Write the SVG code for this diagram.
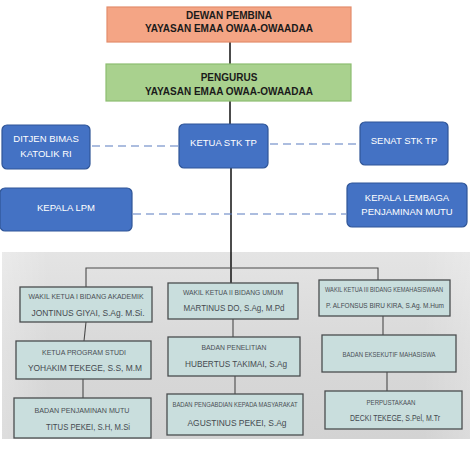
<svg xmlns="http://www.w3.org/2000/svg" width="474" height="458" viewBox="0 0 474 458">
<defs>
<linearGradient id="photo" x1="0" y1="0" x2="0" y2="1">
<stop offset="0" stop-color="#e4e4e4"/>
<stop offset="0.5" stop-color="#d9d9d9"/>
<stop offset="1" stop-color="#d3d3d3"/>
</linearGradient>
<linearGradient id="photoH" x1="0" y1="0" x2="1" y2="0">
<stop offset="0" stop-color="#ffffff" stop-opacity="0.25"/>
<stop offset="0.1" stop-color="#ffffff" stop-opacity="0"/>
<stop offset="0.9" stop-color="#ffffff" stop-opacity="0"/>
<stop offset="1" stop-color="#ffffff" stop-opacity="0.2"/>
</linearGradient>
</defs>
<style>
.top { font-family: "Liberation Sans", Arial, sans-serif; font-weight: bold; font-size: 10px; fill: #1a1a1a; text-anchor: middle; }
.blue { fill: #4472c4; stroke: #2f5597; stroke-width: 1.2; }
.bt { font-family: "Liberation Sans", Arial, sans-serif; font-size: 9.5px; fill: #ffffff; text-anchor: middle; }
.pbox { fill: #c9dedd; stroke: #4a4d4f; stroke-width: 1.3; }
.sm { font-family: "Liberation Sans", Arial, sans-serif; font-size: 6.5px; fill: #4a4f55; text-anchor: middle; }
.nm { font-family: "Liberation Sans", Arial, sans-serif; font-size: 9.5px; fill: #454a50; text-anchor: middle; }
.solid { stroke: #111; stroke-width: 1.5; fill: none; }
.dash { stroke: #5a7cc0; stroke-width: 1.2; stroke-dasharray: 8 5; fill: none; }
.pline { stroke: #4a4a4a; stroke-width: 1.1; fill: none; }
</style>
<rect x="0" y="0" width="474" height="458" fill="#ffffff"/>
<rect x="2" y="252" width="468" height="187" fill="url(#photo)"/>
<rect x="2" y="252" width="468" height="187" fill="url(#photoH)"/>

<g id="connectors">
<line class="solid" x1="230" y1="42" x2="230" y2="64"/>
<line class="solid" x1="230" y1="101" x2="230" y2="124"/>
<line class="solid" x1="231" y1="168" x2="231" y2="284"/>
<line class="dash" x1="92" y1="146" x2="178" y2="146"/>
<line class="dash" x1="270" y1="144" x2="358" y2="144"/>
<line class="dash" x1="133" y1="214" x2="346" y2="214"/>
<polyline class="pline" points="86,287 86,268 378,268 378,280"/>
<line class="pline" x1="86" y1="322" x2="84" y2="341"/>
<line class="pline" x1="83" y1="379" x2="83" y2="398"/>
<line class="pline" x1="233" y1="319" x2="233" y2="337"/>
<line class="pline" x1="235" y1="376" x2="235" y2="394"/>
<line class="pline" x1="383" y1="316" x2="383" y2="335"/>
<line class="pline" x1="387" y1="372" x2="387" y2="391"/>
</g>

<g id="dewan-pembina">
<rect x="107" y="7" width="244" height="35" fill="#f4a585" stroke="#e38d6c" stroke-width="1.2"/>
<text class="top" x="229" y="19">DEWAN PEMBINA</text>
<text class="top" x="229" y="32">YAYASAN EMAA OWAA-OWAADAA</text>
</g>

<g id="pengurus">
<rect x="106" y="64" width="245" height="37" fill="#a9d18e" stroke="#8dbd70" stroke-width="1.2"/>
<text class="top" x="229" y="81">PENGURUS</text>
<text class="top" x="229" y="95">YAYASAN EMAA OWAA-OWAADAA</text>
</g>

<g id="ditjen">
<rect class="blue" x="2" y="125" width="88" height="44" rx="5"/>
<text class="bt" x="46" y="141.5">DITJEN BIMAS</text>
<text class="bt" x="46" y="156.5">KATOLIK RI</text>
</g>

<g id="ketua">
<rect class="blue" x="179" y="124" width="89" height="44" rx="5"/>
<text class="bt" x="223.5" y="145.5">KETUA STK TP</text>
</g>

<g id="senat">
<rect class="blue" x="360" y="122" width="88" height="43" rx="5"/>
<text class="bt" x="404" y="143.5">SENAT STK TP</text>
</g>

<g id="kepala-lpm">
<rect class="blue" x="0" y="188" width="132" height="43" rx="5"/>
<text class="bt" x="66" y="210.5">KEPALA LPM</text>
</g>

<g id="kepala-lembaga">
<rect class="blue" x="347" y="183" width="120" height="44" rx="5"/>
<text class="bt" x="407" y="200.5">KEPALA LEMBAGA</text>
<text class="bt" x="407" y="214.5">PENJAMINAN MUTU</text>
</g>

<g id="wakil1">
<rect class="pbox" x="20" y="287" width="132" height="35"/>
<text class="sm" x="86" y="298.5" textLength="115" lengthAdjust="spacingAndGlyphs">WAKIL KETUA I BIDANG AKADEMIK</text>
<text class="nm" x="88" y="315.5" textLength="113" lengthAdjust="spacingAndGlyphs">JONTINUS GIYAI, S.Ag. M.Si.</text>
</g>

<g id="kaprodi">
<rect class="pbox" x="16" y="341" width="135" height="38"/>
<text class="sm" x="84" y="354.5" textLength="84" lengthAdjust="spacingAndGlyphs">KETUA PROGRAM STUDI</text>
<text class="nm" x="85" y="370.5" textLength="114" lengthAdjust="spacingAndGlyphs">YOHAKIM TEKEGE, S.S, M.M</text>
</g>

<g id="bpm">
<rect class="pbox" x="14" y="398" width="137" height="40"/>
<text class="sm" x="82" y="412.5" textLength="95" lengthAdjust="spacingAndGlyphs">BADAN PENJAMINAN MUTU</text>
<text class="nm" x="88" y="429.5" textLength="84" lengthAdjust="spacingAndGlyphs">TITUS PEKEI, S.H, M.Si</text>
</g>

<g id="wakil2">
<rect class="pbox" x="168" y="283" width="130" height="36"/>
<text class="sm" x="233" y="294.5" textLength="100" lengthAdjust="spacingAndGlyphs">WAKIL KETUA II BIDANG UMUM</text>
<text class="nm" x="234" y="310.5" textLength="101" lengthAdjust="spacingAndGlyphs">MARTINUS DO, S.Ag, M.Pd</text>
</g>

<g id="penelitian">
<rect class="pbox" x="168" y="337" width="132" height="39"/>
<text class="sm" x="234" y="349.5" textLength="65" lengthAdjust="spacingAndGlyphs">BADAN PENELITIAN</text>
<text class="nm" x="236" y="366.5" textLength="102" lengthAdjust="spacingAndGlyphs">HUBERTUS TAKIMAI, S.Ag</text>
</g>

<g id="pengabdian">
<rect class="pbox" x="167" y="394" width="136" height="41"/>
<text class="sm" x="235" y="406.5" textLength="125" lengthAdjust="spacingAndGlyphs">BADAN PENGABDIAN KEPADA MASYARAKAT</text>
<text class="nm" x="237" y="425.5" textLength="99" lengthAdjust="spacingAndGlyphs">AGUSTINUS PEKEI, S.Ag</text>
</g>

<g id="wakil3">
<rect class="pbox" x="319" y="280" width="131" height="36"/>
<text class="sm" x="384" y="291.5" textLength="118" lengthAdjust="spacingAndGlyphs">WAKIL KETUA III BIDANG KEMAHASISWAAN</text>
<text class="nm" x="385" y="307.5" style="font-size:6.8px" textLength="118" lengthAdjust="spacingAndGlyphs">P. ALFONSUS BIRU KIRA, S.Ag. M.Hum</text>
</g>

<g id="bem">
<rect class="pbox" x="322" y="335" width="134" height="37"/>
<text class="sm" x="389" y="356.5" textLength="93" lengthAdjust="spacingAndGlyphs">BADAN EKSEKUTIF MAHASISWA</text>
</g>

<g id="perpustakaan">
<rect class="pbox" x="325" y="391" width="137" height="38"/>
<text class="sm" x="391" y="404.5" textLength="49" lengthAdjust="spacingAndGlyphs">PERPUSTAKAAN</text>
<text class="nm" x="395" y="420.5" textLength="90" lengthAdjust="spacingAndGlyphs">DECKI TEKEGE, S.Pel, M.Tr</text>
</g>
</svg>
